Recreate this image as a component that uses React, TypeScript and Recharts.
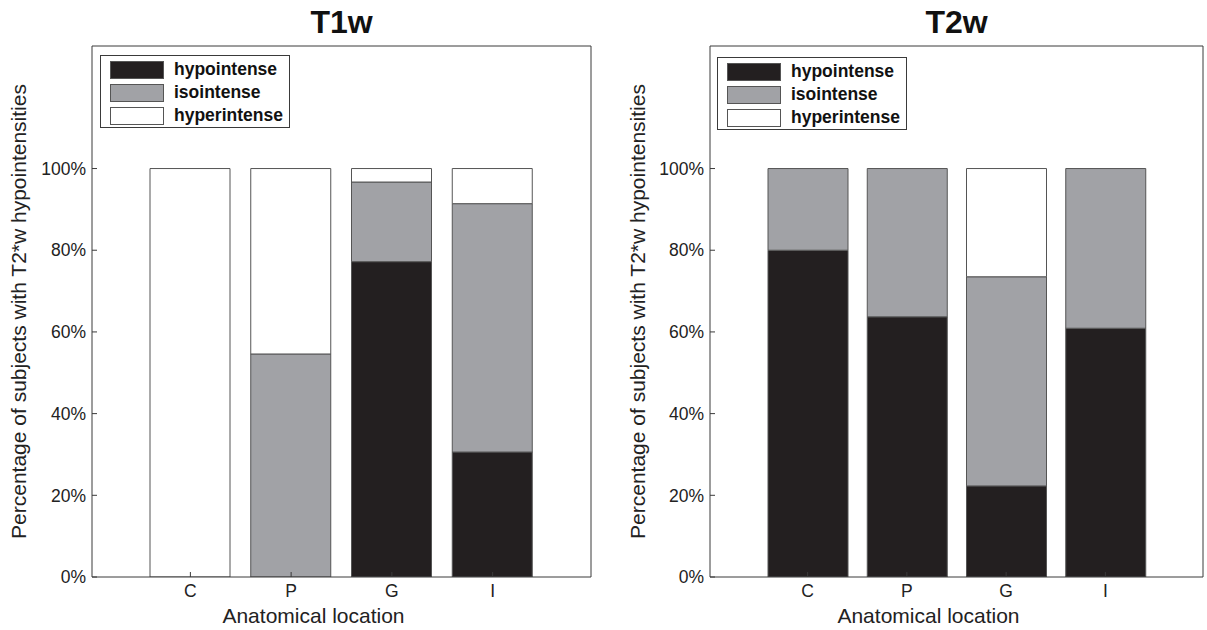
import React from 'react';
import { BarChart, Bar, XAxis, YAxis, Legend, Label } from 'recharts';

// categories and values (percent of subjects)
const locations = ['C', 'P', 'G', 'I'];
const yTicks = [0, 20, 40, 60, 80, 100];

const t1Hypo = [0, 0, 77.2, 30.6];
const t1Iso = [0, 54.6, 19.5, 60.8];
const t1Hyper = [100, 45.4, 3.3, 8.6];

const t2Hypo = [80, 63.7, 22.3, 60.9];
const t2Iso = [20, 36.3, 51.2, 39.1];
const t2Hyper = [0, 0, 26.5, 0];

const seriesNames = ['hypointense', 'isointense', 'hyperintense'];
const seriesColors = ['#231f20', '#a1a2a6', '#ffffff'];

const FONT = '"Liberation Sans", Arial, Helvetica, sans-serif';
const EDGE = '#555555';
const AXIS = '#3a3a3a';

const buildRows = (hypo: number[], iso: number[], hyper: number[]) =>
  locations.map((loc, i) => ({ loc, hypo: hypo[i], iso: iso[i], hyper: hyper[i] }));

const LegendBox = ({ payload }: any) => {
  // keep the legend in series order, not the order recharts hands it over
  const items = [...(payload || [])].sort(
    (a: any, b: any) => seriesNames.indexOf(a.value) - seriesNames.indexOf(b.value)
  );
  return (
    <svg width={190} height={74} style={{ display: 'block' }}>
      <rect x={0.5} y={0.5} width={189} height={72} fill="#fff" stroke={AXIS} strokeWidth={1} />
      {items.map((p: any, i: number) => (
        <g key={p.value}>
          <rect x={10.5} y={6.5 + i * 23} width={53} height={17} fill={p.color} stroke={EDGE} strokeWidth={1} />
          <text x={74} y={20 + i * 23} fontFamily={FONT} fontWeight="bold" fontSize={17.5} fill="#111">
            {p.value}
          </text>
        </g>
      ))}
    </svg>
  );
};

interface PanelProps {
  title: string;
  rows: any[];
  left: number;
  width: number;
  yAxisWidth: number;
  rightMargin: number;
  legendPos: { left: number; top: number };
  yLabelX: number;
}

const Panel: React.FC<PanelProps> = ({ title, rows, left, width, yAxisWidth, rightMargin, legendPos, yLabelX }) => (
  <div style={{ position: 'absolute', left, top: 0 }}>
    <BarChart
      width={width}
      height={630}
      data={rows}
      margin={{ top: 45, right: rightMargin, bottom: 0, left: 0 }}
      barSize={80}
      style={{ fontFamily: FONT }}
    >
      <XAxis
        dataKey="loc"
        height={53}
        padding={{ left: 48, right: 48 }}
        axisLine={{ stroke: AXIS }}
        tickLine={{ stroke: AXIS }}
        tickSize={-5}
        tickMargin={13}
        tick={{ fontSize: 17.5, fill: '#222', fontFamily: FONT }}
      >
        <Label
          content={({ viewBox }: any) => (
            <text
              x={viewBox.x + viewBox.width / 2 - 28}
              y={viewBox.y + 46}
              textAnchor="middle"
              fontFamily={FONT}
              fontSize={21}
              fill="#222"
            >
              Anatomical location
            </text>
          )}
        />
      </XAxis>
      <XAxis
        xAxisId="top"
        orientation="top"
        dataKey="loc"
        height={1}
        padding={{ left: 48, right: 48 }}
        axisLine={{ stroke: AXIS }}
        tickLine={{ stroke: AXIS }}
        tickSize={-5}
        tick={false}
      >
        <Label
          content={({ viewBox }: any) => (
            <text
              x={viewBox.x + viewBox.width / 2}
              y={viewBox.y - 12}
              textAnchor="middle"
              fontFamily={FONT}
              fontSize={32}
              fontWeight="bold"
              fill="#111"
            >
              {title}
            </text>
          )}
        />
      </XAxis>
      <YAxis
        width={yAxisWidth}
        domain={[0, 130]}
        ticks={yTicks}
        allowDataOverflow
        tickFormatter={(v: number) => `${v}%`}
        axisLine={{ stroke: AXIS }}
        tickLine={{ stroke: AXIS }}
        tickSize={-5}
        tickMargin={11}
        tick={{ fontSize: 17.5, fill: '#222', fontFamily: FONT }}
      >
        <Label
          content={({ viewBox }: any) => {
            const cx = viewBox.x + yLabelX;
            const cy = viewBox.y + viewBox.height / 2;
            return (
              <text
                x={cx}
                y={cy}
                transform={`rotate(-90 ${cx} ${cy})`}
                textAnchor="middle"
                dominantBaseline="central"
                fontFamily={FONT}
                fontSize={21}
                fill="#222"
              >
                Percentage of subjects with T2*w hypointensities
              </text>
            );
          }}
        />
      </YAxis>
      <YAxis
        yAxisId="right"
        orientation="right"
        width={1}
        domain={[0, 130]}
        ticks={yTicks}
        allowDataOverflow
        axisLine={{ stroke: AXIS }}
        tickLine={{ stroke: AXIS }}
        tickSize={-5}
        tick={false}
      />
      <Legend
        layout="vertical"
        align="center"
        verticalAlign="middle"
        wrapperStyle={{ left: legendPos.left, top: legendPos.top, width: 190, height: 74 }}
        content={LegendBox}
      />
      <Bar dataKey="hypo" name={seriesNames[0]} stackId="a" fill={seriesColors[0]} stroke={EDGE} strokeWidth={1} isAnimationActive={false} />
      <Bar dataKey="iso" name={seriesNames[1]} stackId="a" fill={seriesColors[1]} stroke={EDGE} strokeWidth={1} isAnimationActive={false} />
      <Bar dataKey="hyper" name={seriesNames[2]} stackId="a" fill={seriesColors[2]} stroke={EDGE} strokeWidth={1} isAnimationActive={false} />
    </BarChart>
  </div>
);

export default function App() {
  return (
    <div style={{ position: 'absolute', left: 0, top: 0, width: 1207, height: 630, background: '#fff', overflow: 'hidden' }}>
      <Panel
        title="T1w"
        rows={buildRows(t1Hypo, t1Iso, t1Hyper)}
        left={0}
        width={600}
        yAxisWidth={92}
        rightMargin={8}
        legendPos={{ left: 100, top: 55 }}
        yLabelX={18}
      />
      <Panel
        title="T2w"
        rows={buildRows(t2Hypo, t2Iso, t2Hyper)}
        left={620}
        width={587}
        yAxisWidth={90}
        rightMargin={3}
        legendPos={{ left: 97, top: 57 }}
        yLabelX={17}
      />
    </div>
  );
}
